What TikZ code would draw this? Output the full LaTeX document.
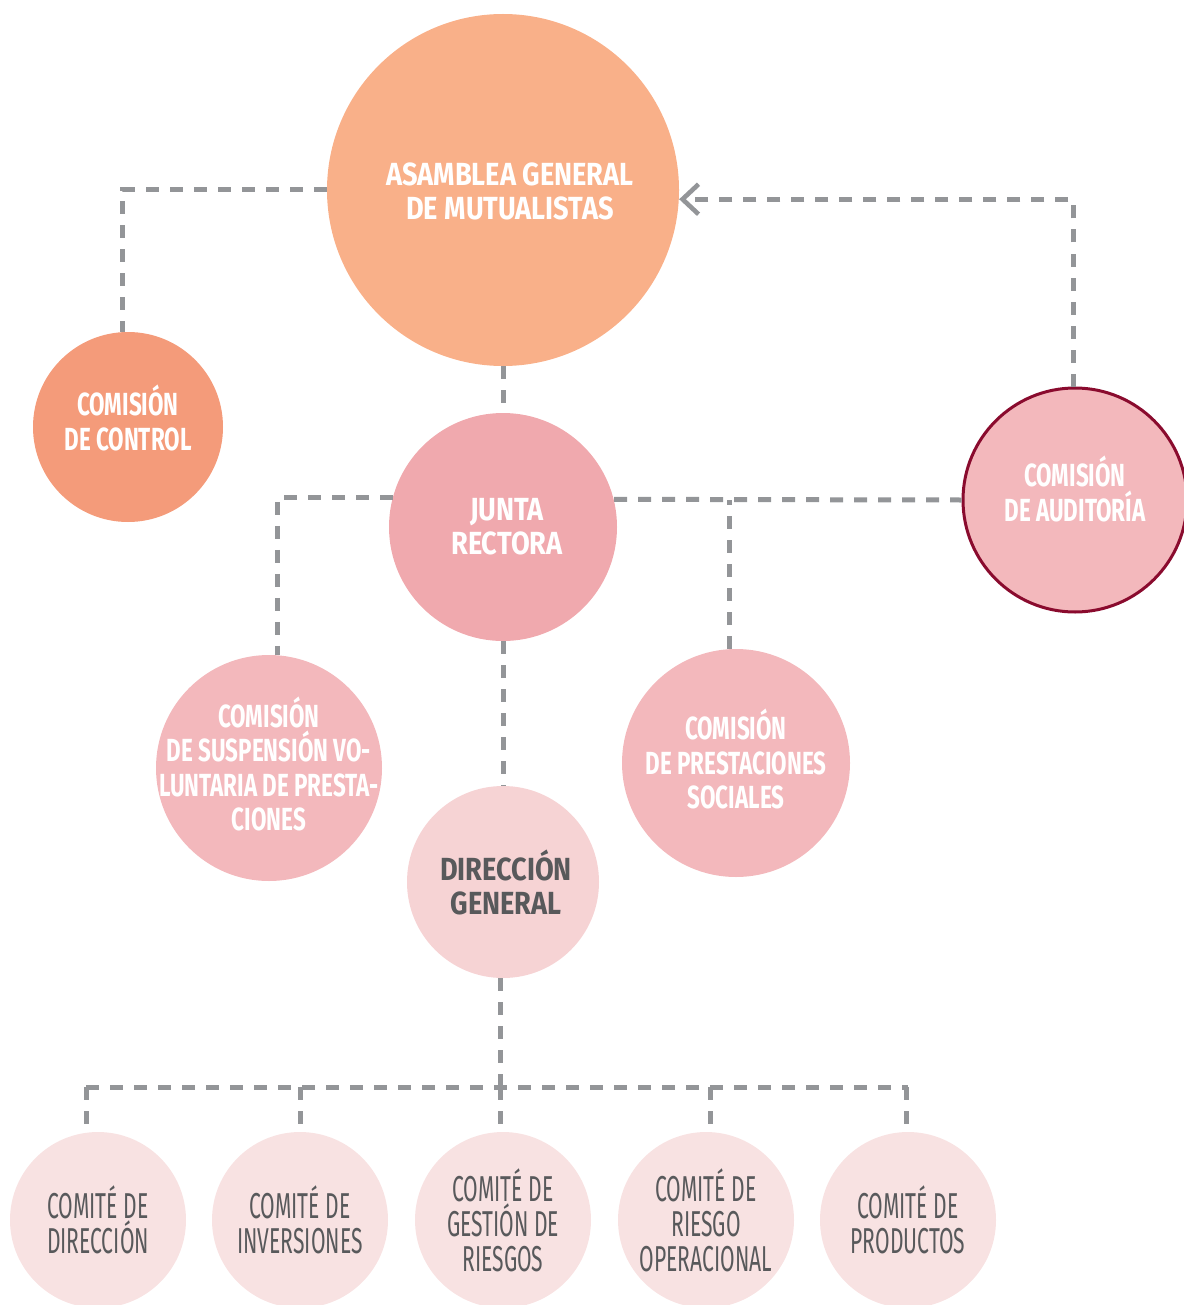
\documentclass[tikz,border=0pt]{standalone}
\usepackage{fontspec}
\usepackage{tikz}
\usepackage{xcolor}
\usetikzlibrary{positioning, calc, arrows.meta}
\newfontfamily\headfont{Fira Sans}[FakeStretch=0.85]
\newfontfamily\midfont{Fira Sans}[FakeStretch=0.70]
\newfontfamily\smallfont{Fira Sans}[FakeStretch=0.585]
\definecolor{asamblea}{RGB}{249,176,137}
\definecolor{control}{RGB}{244,155,122}
\definecolor{junta}{RGB}{240,169,174}
\definecolor{comision}{RGB}{243,184,188}
\definecolor{borde}{RGB}{138,11,46}
\definecolor{direccion}{RGB}{246,211,212}
\definecolor{comite}{RGB}{248,226,226}
\definecolor{textgray}{RGB}{88,89,91}
\definecolor{dashgray}{RGB}{147,149,152}
\tikzstyle{Circ} = [circle, inner sep=0pt, align=center, text=white,
  font=\headfont\bfseries\fontsize{16pt}{17pt}\selectfont]
\tikzstyle{Htext} = [align=center, text=white, inner sep=0pt,
  font=\headfont\bfseries\fontsize{16pt}{17pt}\selectfont]
\tikzstyle{Comision} = [circle, inner sep=0pt, fill=comision]
\tikzstyle{Ctext} = [align=center, text=white, inner sep=0pt,
  font=\midfont\bfseries\fontsize{16pt}{17.3pt}\selectfont]
\tikzstyle{Comite} = [circle, inner sep=0pt, align=center, fill=comite,
  minimum size=88pt, text=textgray,
  font=\smallfont\fontsize{18pt}{17.5pt}\selectfont]
\tikzstyle{Dash} = [dashgray, line width=2.5pt, dash pattern=on 6.5pt off 5.5pt]

\begin{document}
\begin{tikzpicture}[x=0.5pt, y=-0.5pt]
    \useasboundingbox (0,0) rectangle (1183,1305);

    \node [Comision, fill=asamblea, minimum size=176pt,
        label={[Htext, xshift=3.5pt, yshift=-0.5pt]center:ASAMBLEA GENERAL\\DE MUTUALISTAS}] (1) at (503,190) {};
    \node [Comision, fill=control, minimum size=95pt,
        label={[Ctext, yshift=4.5pt]center:COMISIÓN\\DE CONTROL}] (2) at (128,427) {};
    \node [Circ, fill=junta, minimum size=114pt, label={[Htext, xshift=2pt]center:JUNTA\\RECTORA}] (3) at (503,527) {};
    \node [Comision, draw=borde, line width=1.5pt, minimum size=112pt,
        label={[Ctext, yshift=5.5pt]center:COMISIÓN\\DE AUDITORÍA}] (4) at (1075,500) {};
    \node [Comision, minimum size=113pt,
        label={[Ctext, yshift=2pt]center:COMISIÓN\\DE SUSPENSIÓN VO-\\LUNTARIA DE PRESTA-\\CIONES}] (5) at (269,768) {};
    \node [Comision, minimum size=114pt,
        label={[Ctext, yshift=2pt]center:COMISIÓN\\DE PRESTACIONES\\SOCIALES}] (6) at (736,763) {};
    \node [Circ, fill=direccion, minimum size=96pt,
        label={[Htext, text=textgray, xshift=1.5pt]center:DIRECCIÓN\\GENERAL}] (7) at (503,882) {};

    \node [Comite] (8) at (98,1220) {COMITÉ DE\\DIRECCIÓN};
    \node [Comite, right =101pt of 8.center, anchor=center] (9) {COMITÉ DE\\INVERSIONES};
    \node [Comite] (10) at (503,1220) {COMITÉ DE\\GESTIÓN DE\\RIESGOS};
    \node [Comite] (11) at (706,1220) {COMITÉ DE\\RIESGO\\OPERACIONAL};
    \node [Comite] (12) at (908,1220) {COMITÉ DE\\PRODUCTOS};

    \coordinate (bus) at (0,1087);

    \draw[Dash] (1.west) -| ([xshift=-3pt]2.north);
    \draw[Dash] (1.south) -- (3.north);
    \draw[Dash] (3.165) -| ([xshift=4pt]5.north);
    \draw[Dash] (3.14) -- (4.west);
    \draw[Dash] ([xshift=-3.5pt]6.north) -- ([xshift=-3.5pt]6.north |- 4.west);
    \draw[Dash, -{Straight Barb[length=8pt, width=15pt, line width=2.3pt]}] ([xshift=-1pt]4.north) |- (1.-3);
    \draw[Dash] (3.south) -- (7.north);
    \draw[Dash] ([xshift=-1.5pt]7.south) -- ([xshift=-1.5pt]7.south |- bus);
    \draw[Dash] ([xshift=-6pt]8.north |- bus) -- (12.north |- bus);
    \foreach \c/\dx in {8/-6pt,9/0pt,10/-1.5pt,11/2pt,12/-1pt}
        \draw[Dash, shorten >=4pt] ([xshift=\dx]\c.north |- bus) -- ([xshift=\dx]\c.north);
\end{tikzpicture}
\end{document}
